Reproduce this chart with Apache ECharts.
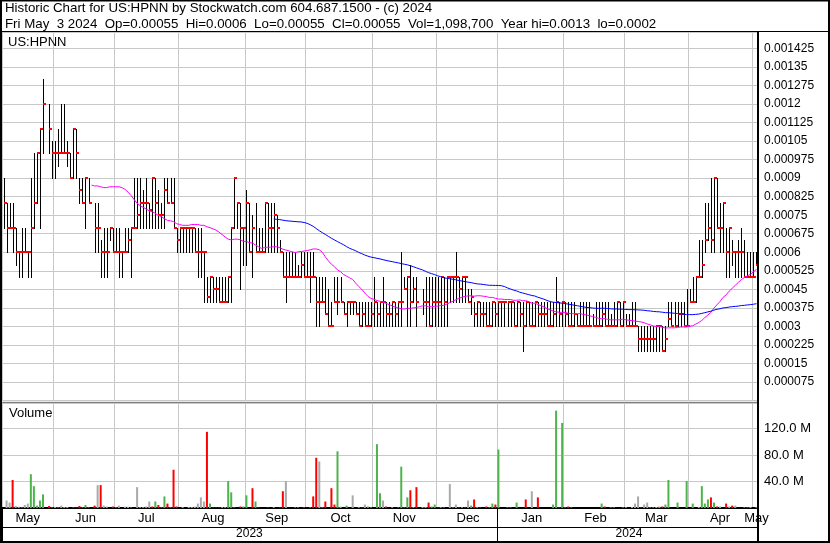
<!DOCTYPE html>
<html>
<head>
<meta charset="utf-8">
<script src="https://cdn.jsdelivr.net/npm/echarts@6/dist/echarts.min.js"></script>
<style>
html,body{margin:0;padding:0;background:#fff;}
#chart{width:830px;height:543px;}
</style>
</head>
<body>
<div id="chart"></div>
<script>
// ---------------- data ----------------
const headerLine1 = 'Historic Chart for US:HPNN by Stockwatch.com 604.687.1500 - (c) 2024';
const headerLine2 = 'Fri May  3 2024  Op=0.00055  Hi=0.0006  Lo=0.00055  Cl=0.00055  Vol=1,098,700  Year hi=0.0013  lo=0.0002';
const symbolName = 'US:HPNN';

const monthNames   = ['May','Jun','Jul','Aug','Sep','Oct','Nov','Dec','Jan','Feb','Mar','Apr','May'];
const monthYears   = [2023,2023,2023,2023,2023,2023,2023,2023,2024,2024,2024,2024,2024];
const barsPerMonth = [17,20,21,22,20,22,21,20,22,20,21,21,2];
const yearNames    = ['2023','2024'];

// prices in units of 0.00001 USD (null = no trade that day)
const high = [
  90,80,80,80,70,60,70,70,60,90,100,100,110,130,null,120,105,
  105,110,120,120,105,100,110,110,90,90,90,90,null,80,80,65,70,70,70,70,
  70,70,60,70,70,70,90,90,90,85,90,80,90,90,85,80,90,90,90,90,70,
  70,70,70,70,70,70,70,70,60,50,50,50,50,50,50,50,50,70,90,80,80,70,
  85,80,75,80,70,70,80,80,80,80,75,65,60,60,60,60,60,55,60,60,
  60,60,60,50,50,50,50,45,40,50,50,50,40,40,40,40,40,40,40,40,40,40,
  50,40,40,50,40,40,40,40,40,60,50,50,55,50,50,null,45,50,50,50,50,
  50,50,50,50,50,50,60,50,50,50,45,45,40,40,40,40,40,40,40,40,
  40,40,40,40,40,40,40,40,40,40,40,40,40,40,40,40,40,40,40,50,40,40,
  40,40,40,40,35,40,40,40,40,35,40,40,40,40,40,35,40,40,40,40,
  35,35,40,40,30,30,30,30,30,30,30,30,30,30,40,40,40,40,40,40,45,
  45,50,50,65,65,80,80,90,90,90,80,80,70,70,65,60,65,70,65,60,60,
  60,60
];
const low = [
  70,60,70,60,55,50,50,60,50,50,70,80,70,100,null,100,90,
  90,95,100,100,95,90,90,90,80,80,70,80,null,60,60,50,50,50,65,60,
  60,50,50,60,60,50,70,70,70,70,70,70,70,70,70,70,70,80,80,70,60,
  60,60,60,60,60,60,50,50,40,40,40,40,40,40,40,40,40,40,70,70,45,55,
  55,60,50,60,60,60,60,60,60,60,60,60,50,40,50,50,50,50,50,50,
  50,40,50,30,30,40,35,30,30,40,35,40,35,30,35,35,35,30,30,30,30,30,
  30,30,30,30,30,30,30,30,30,30,45,30,30,40,30,null,35,30,30,30,30,
  30,30,30,30,40,40,40,40,40,40,40,35,30,30,30,30,30,30,30,30,
  30,30,30,30,30,30,30,30,20,30,30,30,30,30,30,30,30,30,30,30,30,30,
  30,30,30,30,30,30,30,30,30,30,30,30,30,30,30,30,30,30,30,30,
  30,30,30,30,20,20,20,20,20,20,20,20,20,20,30,30,30,30,30,30,30,
  40,40,40,50,50,60,65,60,60,70,60,60,50,50,55,50,50,50,50,50,50,
  50,55
];
const close = [
  80,70,70,70,60,60,60,60,60,70,80,100,110,120,null,110,100,
  100,100,100,100,100,90,110,100,85,80,90,80,null,70,70,60,60,60,70,60,
  60,60,60,60,65,70,70,75,80,80,80,77,90,80,75,75,85,80,80,70,65,
  70,70,70,70,70,60,60,60,60,42,50,45,45,40,40,40,50,70,90,80,70,70,
  80,60,70,60,60,60,80,70,70,75,70,60,50,50,50,50,50,50,55,50,
  50,50,50,40,40,40,35,30,30,40,40,40,35,40,40,40,35,30,35,30,30,35,
  40,35,40,40,35,35,40,35,40,40,45,50,40,45,40,null,40,40,30,40,40,
  40,50,40,50,50,50,50,45,50,50,40,42,35,40,35,35,30,30,40,35,
  40,40,40,40,40,30,40,35,30,40,30,30,40,35,35,35,30,30,35,40,35,40,
  35,30,30,35,30,30,30,30,30,30,30,30,35,30,30,30,30,40,30,40,
  30,30,30,30,25,25,25,25,25,25,30,30,20,25,33,30,30,35,35,30,30,
  40,40,50,50,55,65,70,65,90,70,70,80,60,70,60,60,60,60,50,50,50,
  50,55
];
// daily volume in millions of shares
const volumeM = [
  0,11.3,8.2,42.3,3.1,2,0.8,4.6,6.7,51,33,3.6,11.3,20.6,0,3.1,1.5,
  1.5,0.8,3.6,1.5,1.5,0,0.8,0.8,3.1,1.5,4.6,1.5,0,3.6,34.5,34.5,3.6,2.3,0,2.3,
  0.8,3.6,0,2,2,0.8,0,31.5,1.5,1.5,2.3,9.8,2.3,9.8,4.6,1.5,17.5,6.7,0.8,57.7,2.3,
  0,1.5,0,1.5,1.5,2,6.7,16,9.8,115,6.7,0.8,0.8,0.8,1.5,1.5,40.7,23.7,1.5,0,2.3,2.3,
  19.1,0,29.9,9.8,0.8,0,0,0.8,0,1.5,0,0.8,25.3,40.7,0,0,0.8,0.8,0,0.8,
  0,0.8,17.5,75.8,70.1,0.8,9.8,0,29.9,5.2,85.6,2,0,3.6,0,19.1,0,1.5,0.8,5.2,2.3,0.8,
  0,96.4,22.2,11.3,2.3,0,1.5,0,0.8,62.4,0.8,16,26.8,1.5,31.5,0,1.5,1.5,8.2,2.3,5.2,
  0.8,1.5,1.5,0,36.1,0.8,5.2,0.8,1.5,0.8,11.3,3.6,12.9,1.5,0.8,0,2.3,0.8,6.7,5.2,
  88.2,0,0,0.8,1.5,0,8.2,0,0,12.9,0,25.3,0,16,0,0,0,0,5.2,147,0.8,128.4,
  1.5,2.3,0.8,0,0,0,0,0,0,0,0,0,6.7,2.3,0,0.8,0.8,0,0,0.8,
  1.5,0,1.5,6.7,17.5,0.8,5.2,8.2,0.8,0.8,1.5,2.3,2.3,5.2,42.3,0,0,8.2,0,0,40.7,
  0,6.7,0,1.5,33,6.7,12.9,16,8.2,2.3,2.3,0,6.7,2.3,3.6,3.6,0,0,0.8,1.5,1.5,
  0,1.1
];
// day direction shown by the volume bar colour: 1 up, -1 down, 0 unchanged
const volumeDir = [
  0,0,0,-1,0,0,0,0,0,1,1,1,1,1,0,-1,-1,
  0,0,0,0,0,0,1,-1,-1,-1,1,-1,0,-1,0,-1,0,0,0,-1,
  0,0,0,0,0,1,0,0,1,1,0,0,-1,1,-1,-1,1,-1,0,-1,-1,
  0,0,0,0,0,0,0,0,0,-1,1,-1,-1,-1,0,1,1,1,-1,0,-1,1,
  1,0,-1,1,-1,0,0,-1,0,1,0,-1,-1,0,0,0,0,0,0,1,
  0,0,-1,-1,0,0,-1,0,-1,-1,1,0,0,1,0,0,0,1,-1,0,1,0,
  0,1,1,0,-1,0,1,0,1,1,1,1,-1,1,-1,0,0,0,-1,1,1,
  -1,1,-1,0,0,0,0,-1,1,-1,0,1,-1,1,-1,0,-1,0,1,-1,
  1,0,0,0,-1,0,1,0,0,-1,0,0,0,-1,0,0,0,0,1,1,-1,1,
  -1,-1,1,0,0,0,0,0,0,0,0,0,1,-1,0,0,0,0,0,0,
  1,0,0,0,0,-1,0,0,0,0,0,0,-1,1,1,0,0,1,0,0,1,
  0,1,0,0,1,1,1,-1,1,-1,0,0,-1,0,-1,0,0,0,0,-1,0,
  0,0
];
const maPeriods = [30, 90];
const priceTickStep = 0.000075;
const volumeTickStep = 40;

// ---------------- derived structures ----------------
const UNIT = 0.00001;
const categories = [];
const monthStart = new Set();
const monthLabelAt = new Map();
const yearStart = new Set([0]);
const yearLabelAt = new Map();
let pos = 0;
const yearFirst = {}; const yearCount = {};
barsPerMonth.forEach((n, m) => {
  monthStart.add(pos);
  monthLabelAt.set(pos + Math.floor(n / 2), monthNames[m]);
  const y = String(monthYears[m]);
  if (!(y in yearFirst)) { yearFirst[y] = pos; yearCount[y] = 0; yearStart.add(pos); }
  yearCount[y] += n;
  for (let k = 0; k < n; k++) categories.push(y + '-' + monthNames[m] + '-' + (k + 1));
  pos += n;
});
yearNames.forEach(y => yearLabelAt.set(yearFirst[y] + Math.floor(yearCount[y] / 2), y));

const ohlc = [];
categories.forEach((c, i) => {
  if (high[i] != null) ohlc.push([i, high[i] * UNIT, low[i] * UNIT, close[i] * UNIT]);
});

function movingAverage(period) {
  let last = null;
  const filled = close.map(c => (c == null ? last : (last = c)));
  return filled.map((c, i) => {
    if (i < period - 1) return null;
    let s = 0;
    for (let k = i - period + 1; k <= i; k++) s += filled[k];
    return s / period * UNIT;
  });
}
const maColors = ['#ff00ff', '#0000ff'];

const GREEN = '#4db34d', RED = '#ff0000', GRAY = '#a9a9a9';
const volData = volumeM.map((v, i) => ({
  value: v,
  itemStyle: { color: volumeDir[i] > 0 ? GREEN : volumeDir[i] < 0 ? RED : GRAY }
}));

// ---------------- chart ----------------
const FONT = '"Liberation Sans", Arial, sans-serif';
const GRIDC = '#c8c8c8';
const chart = echarts.init(document.getElementById('chart'), null, { renderer: 'canvas' });

function renderOHLC(params, api) {
  const i = api.value(0);
  const pH = api.coord([i, api.value(1)]);
  const pL = api.coord([i, api.value(2)]);
  const pC = api.coord([i, api.value(3)]);
  const x = Math.round(pH[0]) + 0.5;
  const cy = Math.round(pC[1]);
  return {
    type: 'group',
    children: [
      { type: 'line', shape: { x1: x, y1: Math.round(pH[1]), x2: x, y2: Math.round(pL[1]) + 1 },
        style: { stroke: '#000', lineWidth: 1 } },
      { type: 'rect', shape: { x: x - 0.5, y: cy - 1, width: 3, height: 2 },
        style: { fill: RED } }
    ]
  };
}

const option = {
  animation: false,
  backgroundColor: '#fff',
  textStyle: { fontFamily: FONT },
  grid: [
    { left: 2, width: 756, top: 32, height: 368.6, show: true, borderColor: '#000', borderWidth: 1, backgroundColor: '#fff' },
    { left: 2, width: 756, top: 403, height: 105, show: true, borderColor: '#000', borderWidth: 1, backgroundColor: '#fff' }
  ],
  xAxis: [
    { type: 'category', gridIndex: 0, data: categories,
      axisLine: { show: false }, axisTick: { show: false }, axisLabel: { show: false },
      splitLine: { show: true, interval: (i) => monthStart.has(i), lineStyle: { color: GRIDC, width: 1 } } },
    { type: 'category', gridIndex: 1, data: categories, position: 'bottom',
      axisLine: { show: true, lineStyle: { color: '#000', width: 2 } },
      axisTick: { show: true, interval: (i) => yearStart.has(i), length: 19, lineStyle: { color: '#000', width: 1 } },
      axisLabel: { show: true, interval: (i) => monthLabelAt.has(i), formatter: (v, i) => monthLabelAt.get(i) || '',
        color: '#000', fontSize: 13, fontFamily: FONT, margin: 4 },
      splitLine: { show: true, interval: (i) => monthStart.has(i), lineStyle: { color: GRIDC, width: 1 } } },
    { type: 'category', gridIndex: 1, data: categories, position: 'bottom', offset: 19,
      axisLine: { show: true, lineStyle: { color: '#000', width: 1 } },
      axisTick: { show: true, interval: (i) => yearStart.has(i), length: 15, lineStyle: { color: '#000', width: 1 } },
      axisLabel: { show: true, interval: (i) => yearLabelAt.has(i), formatter: (v, i) => yearLabelAt.get(i) || '',
        color: '#000', fontSize: 12, fontFamily: FONT, margin: 1 },
      splitLine: { show: false } }
  ],
  yAxis: [
    { type: 'value', gridIndex: 0, position: 'right', min: 0, max: 0.001491, interval: priceTickStep,
      axisLine: { show: false }, axisTick: { show: false },
      axisLabel: { color: '#000', fontSize: 12, fontFamily: FONT, margin: 6,
        formatter: (v) => (v <= 0 || v > 0.00145) ? '' : String(parseFloat(v.toFixed(7))) },
      splitLine: { show: true, lineStyle: { color: GRIDC, width: 1 } } },
    { type: 'value', gridIndex: 1, position: 'right', min: 0, max: 158.5, interval: volumeTickStep,
      axisLine: { show: false }, axisTick: { show: false },
      axisLabel: { color: '#000', fontSize: 13, fontFamily: FONT, margin: 6,
        formatter: (v) => (v <= 0 || v > 150) ? '' : v.toFixed(1) + ' M' },
      splitLine: { show: true, lineStyle: { color: GRIDC, width: 1 } } }
  ],
  series: [
    { type: 'custom', xAxisIndex: 0, yAxisIndex: 0, data: ohlc, renderItem: renderOHLC,
      encode: { x: 0, y: [1, 2, 3] }, clip: true, silent: true, z: 3 },
    ...maPeriods.map((p, k) => ({
      type: 'line', xAxisIndex: 0, yAxisIndex: 0, data: movingAverage(p), symbol: 'none',
      lineStyle: { color: maColors[k], width: 1 }, silent: true, z: 4, connectNulls: false
    })),
    { type: 'bar', xAxisIndex: 1, yAxisIndex: 1, data: volData, barWidth: 2, silent: true }
  ],
  graphic: [
    { type: 'rect', z: 100, silent: true, shape: { x: 1, y: 0.5, width: 828, height: 541.5 },
      style: { fill: null, stroke: '#000', lineWidth: 2 } },
    { type: 'line', z: 100, silent: true, shape: { x1: 0, y1: 31.5, x2: 830, y2: 31.5 }, style: { stroke: '#000', lineWidth: 1 } },
    { type: 'line', z: 100, silent: true, shape: { x1: 758, y1: 31, x2: 758, y2: 543 }, style: { stroke: '#000', lineWidth: 2 } },
    { type: 'text', z: 100, silent: true, x: 5, y: 8,
      style: { text: headerLine1, font: '13.3px ' + FONT, fill: '#000', verticalAlign: 'middle' } },
    { type: 'text', z: 100, silent: true, x: 5, y: 24,
      style: { text: headerLine2, font: '13.3px ' + FONT, fill: '#000', verticalAlign: 'middle' } },
    { type: 'text', z: 100, silent: true, x: 8, y: 42,
      style: { text: symbolName, font: '13px ' + FONT, fill: '#000', verticalAlign: 'middle' } },
    { type: 'text', z: 100, silent: true, x: 9, y: 413,
      style: { text: 'Volume', font: '13px ' + FONT, fill: '#000', verticalAlign: 'middle' } }
  ]
};
chart.setOption(option);
</script>
</body>
</html>
